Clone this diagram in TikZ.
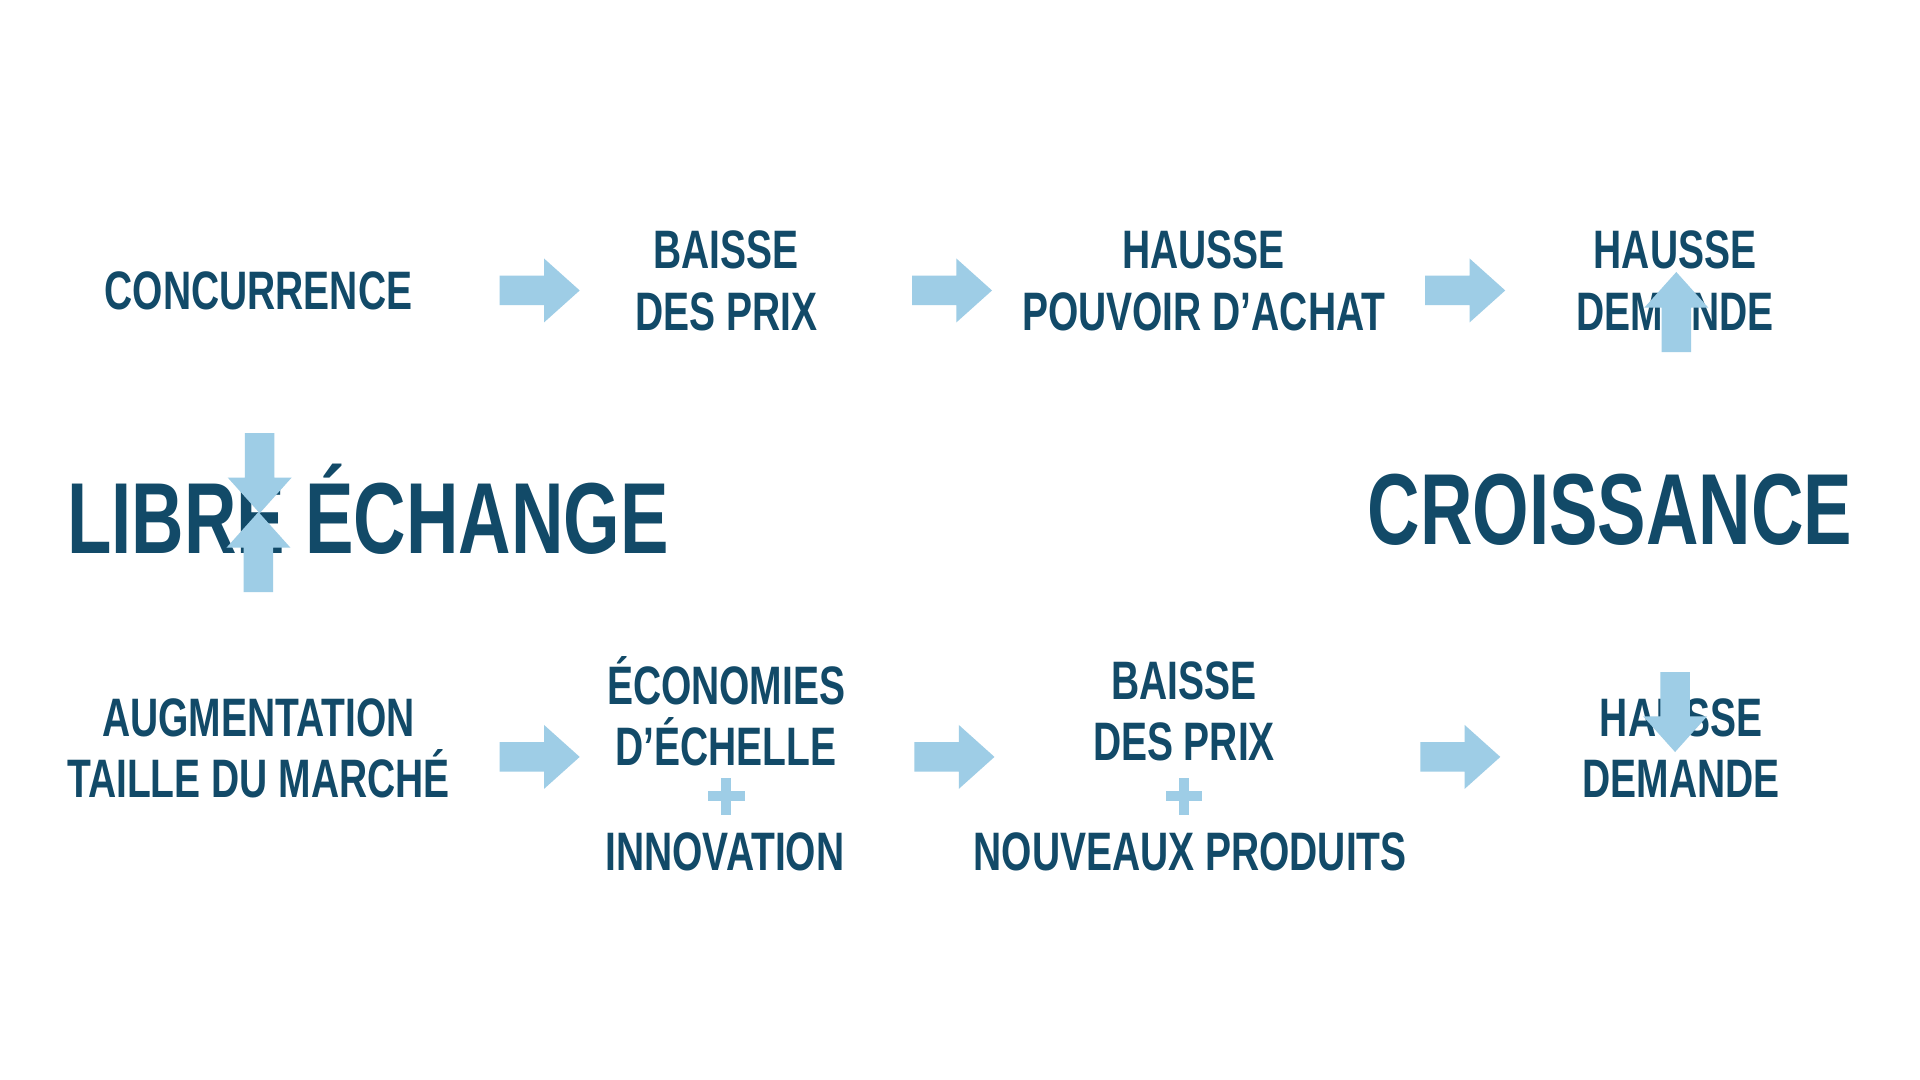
\documentclass[tikz,border=0pt]{standalone}
\usepackage{fontspec}
\setmainfont{Liberation Sans}[FakeStretch=0.72]
\definecolor{dk}{HTML}{124A68}
\definecolor{lt}{HTML}{9ECDE6}
\begin{document}
\begin{tikzpicture}[x=0.5pt,y=-0.5pt,
  txt/.style={text=dk,font=\bfseries\fontsize{22}{25}\selectfont,align=center,inner sep=0},
  big/.style={text=dk,font=\bfseries\fontsize{41}{45}\selectfont,inner sep=0},
  arr/.pic={\fill[lt] (0,-12)--(36,-12)--(36,-26)--(65,0)--(36,26)--(36,12)--(0,12)--cycle;},
  plus/.pic={\fill[lt] (-15,-4)rectangle(15,4); \fill[lt] (-4,-15)rectangle(4,15);}]
\useasboundingbox (0,0) rectangle (1560,877.5);
\fill[white] (0,0) rectangle (1560,877.5);
\node[txt] (conc) at (210,236) {CONCURRENCE};
\node[txt] (b1) at (590,228) {BAISSE\\DES PRIX};
\node[txt] (h1) at (978,228) {HAUSSE\\POUVOIR D’ACHAT};
\node[txt] (h2) at (1361,228) {HAUSSE\\DEMANDE};
\node[big] (libre) at (299,414) {LIBRE ÉCHANGE};
\node[big] (crois) at (1308,414) {CROISSANCE};
\node[txt] (aug) at (210,608) {AUGMENTATION\\TAILLE DU MARCHÉ};
\node[txt] (eco) at (590,578) {ÉCONOMIES\\D’ÉCHELLE};
\node[txt] (inno) at (589,692) {INNOVATION};
\node[txt] (b2) at (962,578) {BAISSE\\DES PRIX};
\node[txt] (nouv) at (967,692) {NOUVEAUX PRODUITS};
\node[txt] (h3) at (1366,608) {HAUSSE\\DEMANDE};
\pic at (590,647) {plus};
\pic at (962,647) {plus};
\pic at (406,236) {arr};
\pic at (741,236) {arr};
\pic at (1158,236) {arr};
\pic at (406,615) {arr};
\pic at (743,615) {arr};
\pic at (1154,615) {arr};
\pic[rotate=-90] at (211,352) {arr};
\pic[rotate=90] at (210,481) {arr};
\pic[rotate=90] at (1362,286) {arr};
\pic[rotate=-90] at (1361,546) {arr};
\end{tikzpicture}
\end{document}
